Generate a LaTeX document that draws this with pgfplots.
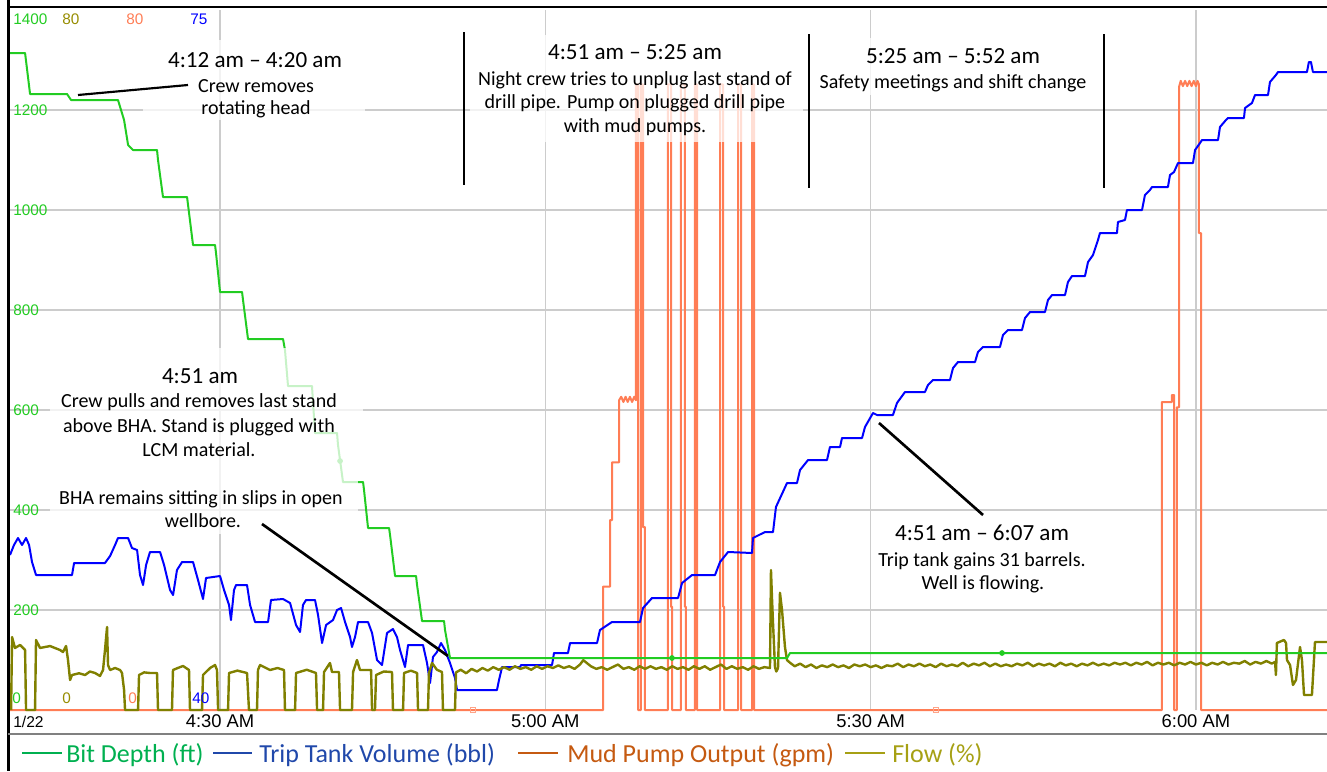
\documentclass[border=0pt]{standalone}
\usepackage{fontspec}
\setmainfont{Carlito}
\newfontfamily\tickfont{Liberation Sans}
\usepackage{pgfplots}
\pgfplotsset{compat=1.18}

\definecolor{bitgreen}{RGB}{34,204,34}
\definecolor{tripblue}{RGB}{0,0,255}
\definecolor{mudcoral}{RGB}{255,125,85}
\definecolor{flowolive}{RGB}{128,128,0}
\definecolor{gridgray}{RGB}{204,204,204}
\definecolor{leggreen}{RGB}{0,176,80}
\definecolor{legblue}{RGB}{32,72,170}
\definecolor{legorange}{RGB}{197,90,17}
\definecolor{legolive}{RGB}{166,160,20}
\definecolor{tickolive}{RGB}{150,140,0}

\newcommand\hdr{\fontsize{17.3}{20}\selectfont}
\newcommand\sub{\fontsize{15}{18}\selectfont}
\newcommand\legfont{\fontsize{19.5}{22}\selectfont}
\newcommand\smalltick{\tickfont\fontsize{11.5}{13}\selectfont}

% time axis: minutes after 4:00 am
\pgfplotsset{
  wellaxis/.style={at={(7.5pt,-532.5pt)}, anchor=south west, width=987.75pt, height=525pt,
    scale only axis, xmin=10.63, xmax=132.09},
  layeraxis/.style={wellaxis, hide axis, clip=false},
}

\begin{document}
\begin{tikzpicture}[x=0.75pt,y=-0.75pt]
\useasboundingbox (0,0) rectangle (1327,771);

% grid and time ticks
\begin{axis}[wellaxis, ymin=0, ymax=1400,
  axis line style={draw=none}, major tick length=0pt,
  xtick={30,60,90,120}, xticklabels={4:30 AM,5:00 AM,5:30 AM,6:00 AM},
  ytick={200,400,600,800,1000,1200},
  /pgf/number format/1000 sep={},
  /pgf/number format/assume math mode=true,
  xmajorgrids, ymajorgrids, grid style={draw=gridgray, line width=1.1pt},
  xticklabel style={font=\tickfont\fontsize{13.8}{16}\selectfont, anchor=base, yshift=-12.75pt},
  yticklabel style={font=\smalltick, text=bitgreen, anchor=west, inner sep=0pt, xshift=2.25pt}]
\addplot[draw=none] coordinates {(30,0)};
\end{axis}

% mud pump output (gpm)
\begin{axis}[layeraxis, ymin=0, ymax=80]
\addplot[mudcoral, line width=1.5pt, line join=round] coordinates {
(10.63,0)(65.32,0)(65.32,14.1)(65.97,14.1)(65.97,21.7)(66.15,21.7)(66.15,28.3)(66.80,28.3)
(66.80,35.4)(67.0,35.8)(67.2,35.2)(67.4,35.8)(67.6,35.2)(67.8,35.8)(68.0,35.2)(68.2,35.8)(68.36,35.4)
(68.36,71.5)(68.55,71.5)(68.55,0)
(68.82,0)(68.82,71.5)(69.01,71.5)(69.01,20.9)(69.19,20.9)(69.19,0)
(71.31,0)(71.31,71.5)(71.59,71.5)(71.59,11.8)(71.70,11.8)(71.70,0)
(72.51,0)(72.51,71.5)(72.88,71.5)(72.88,11.8)(72.97,11.8)(72.97,0)
(73.80,0)(73.80,71.5)(73.99,71.5)(73.99,0)
(76.11,0)(76.11,71.5)(76.39,71.5)(76.39,11.8)(76.50,11.8)(76.50,0)
(77.77,0)(77.77,71.5)(78.05,71.5)(78.05,0)
(79.06,0)(79.06,71.5)(79.25,71.5)(79.25,0)
(116.87,0)(116.87,35.2)(117.79,35.2)(117.79,36.0)(117.98,36.0)(117.98,0)
(118.25,0)(118.25,34.6)(118.44,34.6)(118.44,71.2)(118.6,71.9)(118.8,71.3)(119.0,71.9)(119.2,71.3)
(119.4,71.9)(119.6,71.3)(119.8,71.9)(120.0,71.3)(120.15,71.9)(120.28,71.5)(120.28,54.5)(120.47,54.5)
(120.47,0)(132.09,0)};
\addplot[only marks, mark=square, mark size=1.9pt, mudcoral!70, mark options={line width=0.6pt}]
  coordinates {(53.33,0)(96.03,0)};
\end{axis}

% trip tank volume (bbl)
\begin{axis}[layeraxis, ymin=40, ymax=75]
\addplot[tripblue, line width=1.5pt, line join=round] coordinates {
(10.63,47.75)(11.0,48.25)(11.37,48.6)(11.74,48.25)(12.11,48.6)(12.39,48.25)(12.66,47.4)(13.03,46.75)
(16.35,46.75)(16.54,47.35)(19.39,47.35)(19.86,47.7)(20.32,48.25)(20.59,48.6)(21.52,48.6)(21.88,48.1)
(22.35,48.0)(22.62,46.75)(22.90,46.25)(23.18,47.25)(23.54,47.9)(24.47,47.9)(24.84,47.25)(25.39,46.0)
(25.67,45.75)(26.03,47.0)(26.50,47.4)(27.51,47.4)(27.97,46.5)(28.43,45.55)(28.71,46.6)(30.00,46.7)
(30.37,46.0)(30.83,45.25)(31.01,44.5)(31.29,46.0)(31.48,46.25)(32.49,46.25)(32.77,45.25)(33.23,44.4)
(34.43,44.4)(34.70,45.5)(35.81,45.55)(36.46,45.35)(37.01,44.25)(37.38,43.9)(37.65,45.25)(37.93,45.5)
(38.76,45.5)(39.04,44.75)(39.41,43.35)(39.78,44.25)(40.42,44.5)(40.79,45.0)(41.16,45.1)(41.53,44.4)
(41.99,43.65)(42.17,43.15)(42.45,43.65)(42.73,44.4)(43.65,44.4)(44.02,43.85)(44.48,42.5)(44.94,42.25)
(45.40,43.85)(45.95,44.05)(46.32,43.65)(46.60,43.0)(47.06,42.15)(47.34,43.25)(48.72,43.25)(49.09,42.35)
(49.37,41.35)(49.64,42.65)(50.01,42.9)(50.38,43.35)(50.75,43.0)(51.21,42.35)(51.67,41.6)(51.86,41.0)
(55.54,41.0)(55.73,41.5)(56.01,42.15)(57.67,42.15)(57.76,42.25)(60.62,42.25)(60.80,42.85)(62.09,42.85)
(62.28,43.35)(64.77,43.35)(65.04,44.0)(66.15,44.4)(68.73,44.4)(69.01,45.1)(69.84,45.6)(72.24,45.6)
(72.61,46.35)(73.53,46.75)(75.65,46.75)(76.11,47.4)(76.85,47.9)(79.06,47.85)(79.15,48.6)(80.26,48.9)
(81.00,48.9)(81.27,50.15)(82.29,51.35)(83.21,51.35)(83.49,52.0)(84.23,52.5)(85.98,52.5)(86.25,53.15)
(87.18,53.15)(87.36,53.6)(89.21,53.6)(89.48,54.15)(90.22,54.85)(90.59,54.75)(92.06,54.75)(92.43,55.35)
(93.17,55.9)(95.01,55.9)(95.29,56.25)(95.75,56.5)(97.32,56.5)(97.60,57.1)(98.06,57.4)(99.63,57.4)
(99.90,57.9)(100.36,58.15)(101.93,58.15)(102.21,58.75)(102.67,59.0)(103.96,59.0)(104.24,59.6)(104.70,59.9)
(106.08,59.9)(106.36,60.5)(106.73,60.75)(107.93,60.75)(108.20,61.4)(108.57,61.7)(109.77,61.7)(110.05,62.4)
(110.51,62.75)(110.97,63.5)(111.15,63.85)(112.72,63.85)(112.81,64.4)(113.46,64.5)(113.64,65.0)(115.03,65.0)
(115.30,65.75)(115.76,66.0)(115.95,66.15)(117.42,66.15)(117.61,66.75)(117.98,66.9)(118.35,67.35)(119.73,67.35)
(119.92,68.0)(120.38,68.35)(120.56,68.5)(122.04,68.5)(122.22,69.15)(122.77,69.5)(122.96,69.6)(124.43,69.6)
(124.53,70.1)(125.17,70.35)(125.45,70.75)(126.65,70.75)(126.83,71.4)(127.38,71.75)(127.57,71.9)(130.24,71.9)
(130.42,72.4)(130.61,72.4)(130.79,71.9)(132.09,71.9)};
\end{axis}

% flow (%)
\begin{axis}[layeraxis, ymin=0, ymax=80]
\addplot[flowolive, line width=1.8pt, line join=round] coordinates {
(10.73,0)(10.82,8.34)(11.09,7.09)(11.56,7.43)(12.02,6.86)(12.11,0)(12.94,0)(13.03,8.0)(13.4,7.09)
(14.32,7.31)(15.24,6.86)(15.52,6.63)(15.80,7.31)(15.98,5.71)(16.17,3.43)(16.35,4.0)(17.0,4.2)(17.55,4.0)
(18.0,4.4)(18.47,4.23)(18.93,3.89)(19.21,4.57)(19.39,6.86)(19.58,9.49)(19.67,5.14)(19.86,4.57)(20.32,4.8)
(20.78,4.57)(20.96,4.23)(21.15,2.29)(21.24,0)
(22.44,0)(22.53,4.0)(23.0,4.3)(23.54,4.23)(24.19,4.23)(24.28,0)
(25.57,0)(25.66,4.57)(26.1,4.8)(26.59,5.03)(27.14,4.57)(27.23,0)
(28.34,0)(28.43,4.0)(29.08,4.8)(29.54,5.14)(29.72,4.57)(29.82,0)
(30.74,0)(30.83,4.23)(31.6,4.5)(32.49,4.23)(32.67,0)
(33.41,0)(33.50,4.57)(33.69,5.14)(34.61,4.57)(35.3,4.8)(35.90,4.57)(35.99,0)
(36.92,0)(37.01,4.23)(38.0,4.6)(38.85,4.23)(38.95,0)
(39.50,0)(39.59,4.34)(40.14,5.37)(40.33,4.34)(40.97,4.34)(41.07,0)
(42.17,0)(42.27,4.34)(42.63,5.71)(42.91,4.57)(43.93,4.57)(44.02,0)
(44.29,0)(44.39,4.0)(45.1,4.4)(45.86,4.34)(45.95,0)
(46.88,0)(46.97,4.23)(47.6,4.5)(48.17,4.23)(48.26,0)
(49.18,0)(49.27,4.23)(49.55,5.37)(50.0,4.6)(50.47,4.34)(50.56,0)
(51.67,0)(51.76,4.3)(52.2,4.6)(52.7,4.2)(53.2,4.7)(53.7,4.4)(54.2,4.8)(54.7,4.5)(55.2,4.9)(55.7,4.6)
(56.2,4.9)(56.7,4.6)(57.2,5.0)(57.7,4.7)(58.2,4.9)(58.7,4.6)(59.2,5.0)(59.7,4.7)(60.2,5.0)(60.7,4.8)
(61.2,5.1)(61.7,4.8)(62.2,5.0)(62.7,4.7)(63.2,5.2)(63.5,5.7)(63.8,5.4)(64.2,5.0)(64.7,4.7)(65.2,4.9)
(65.7,4.6)(66.2,4.9)(66.7,5.2)(67.2,4.7)(67.7,4.9)(68.2,4.6)(68.7,5.0)(69.2,4.7)(69.7,5.0)(70.2,4.7)
(70.7,4.9)(71.2,4.6)(71.7,5.0)(72.2,4.7)(72.7,4.9)(73.2,4.6)(73.7,5.0)(74.2,4.7)(74.7,5.0)(75.2,4.6)
(75.7,4.9)(76.2,5.2)(76.7,4.7)(77.2,5.0)(77.7,4.7)(78.2,4.9)(78.7,4.6)(79.2,5.0)(79.7,4.7)(80.2,4.9)
(80.72,4.8)(80.81,16.0)(80.91,12.6)(81.0,9.9)(81.18,4.9)(81.3,4.4)(81.46,4.8)(81.64,13.4)(81.83,11.4)
(82.1,7.2)(82.29,5.7)(82.57,5.4)
(83.0,5.0)(83.5,5.3)(84.0,4.9)(84.5,5.2)(85.0,4.8)(85.5,5.1)(86.0,4.9)(86.5,5.2)(87.0,4.9)(87.5,5.1)
(88.0,4.8)(88.5,5.2)(89.0,5.0)(89.5,5.2)(90.0,4.9)(90.5,5.1)(91.0,4.8)(91.5,5.1)(92.0,5.0)(92.5,5.3)
(93.0,4.9)(93.5,5.2)(94.0,5.0)(94.5,5.3)(95.0,5.0)(95.5,5.2)(96.0,4.9)(96.5,5.3)(97.0,5.0)(97.5,5.2)
(98.0,5.0)(98.5,5.4)(99.0,5.0)(99.5,5.3)(100.0,5.1)(100.5,5.4)(101.0,5.0)(101.5,5.3)(102.0,5.0)(102.5,5.2)
(103.0,5.0)(103.5,5.3)(104.0,5.1)(104.5,5.4)(105.0,5.0)(105.5,5.3)(106.0,5.1)(106.5,5.3)(107.0,5.0)(107.5,5.4)
(108.0,5.1)(108.5,5.3)(109.0,5.0)(109.5,5.3)(110.0,5.1)(110.5,5.4)(111.0,5.1)(111.5,5.3)(112.0,5.1)(112.5,5.4)
(113.0,5.2)(113.5,5.4)(114.0,5.1)(114.5,5.4)(115.0,5.2)(115.5,5.5)(116.0,5.1)(116.5,5.4)(117.0,5.2)(117.5,5.4)
(118.0,5.1)(118.5,5.4)(119.0,5.2)(119.5,5.5)(120.0,5.2)(120.5,5.4)(121.0,5.1)(121.5,5.4)(122.0,5.2)(122.5,5.5)
(123.0,5.2)(123.5,5.4)(124.0,5.3)(124.5,5.6)(125.0,5.2)(125.5,5.5)(126.0,5.3)(126.5,5.6)(127.0,5.3)(127.3,5.5)
(127.38,4.0)(127.47,7.66)(128.12,8.0)(128.31,7.66)(128.40,5.71)(128.68,5.14)(128.95,2.86)(129.23,3.43)
(129.60,7.2)(129.78,5.71)(129.97,1.71)(130.70,1.71)(130.98,7.77)(132.09,7.77)};
\end{axis}

% bit depth (ft)
\begin{axis}[layeraxis, ymin=0, ymax=1400]
\addplot[bitgreen, line width=1.5pt, line join=round] coordinates {
(10.63,1314)(12.02,1314)(12.48,1232)(15.89,1232)(16.26,1220)(20.59,1220)(21.15,1180)(21.52,1130)
(21.98,1120)(24.19,1120)(24.28,1100)(24.74,1026)(26.96,1026)(27.05,1010)(27.51,930)(29.54,930)
(29.63,914)(30.00,836)(32.03,836)(32.12,820)(32.58,742)(35.81,742)(35.99,720)(36.27,648)
(38.48,648)(38.76,554)(40.79,554)(40.88,530)(41.34,456)(43.19,456)(43.28,440)(43.65,364)
(45.59,364)(45.68,350)(46.14,268)(48.08,268)(48.17,250)(48.63,178)(50.66,178)(50.75,160)
(51.21,104)(82.29,104)(82.57,114)(132.09,114)};
\addplot[only marks, mark=*, mark size=1.9pt, bitgreen] coordinates {(41.07,498)(71.68,104)(102.12,114)};
\end{axis}

% scale labels
\node[anchor=west, inner sep=0, font=\smalltick, text=bitgreen] at (13,19) {1400};
\node[anchor=west, inner sep=0, font=\smalltick, text=tickolive] at (62,19) {80};
\node[anchor=west, inner sep=0, font=\smalltick, text=mudcoral] at (126,19) {80};
\node[anchor=west, inner sep=0, font=\smalltick, text=tripblue] at (190,19) {75};
\node[anchor=west, inner sep=0, font=\smalltick, text=bitgreen] at (12,698) {0};
\node[anchor=west, inner sep=0, font=\smalltick, text=tickolive] at (62,698) {0};
\node[anchor=west, inner sep=0, font=\smalltick, text=mudcoral] at (128,698) {0};
\node[anchor=west, inner sep=0, font=\smalltick, text=tripblue] at (192,698) {40};
\node[anchor=base west, inner sep=0, font=\tickfont\fontsize{11.7}{13}\selectfont] at (13,727) {1/22};

% annotation backgrounds
\fill[white, opacity=0.75] (143,40) rectangle (365,120);
\fill[white, opacity=0.75] (50,348) rectangle (363,462);
\fill[white, opacity=0.75] (50,462) rectangle (358,534);
\fill[white, opacity=0.75] (470,35) rectangle (803,142);
\fill[white, opacity=0.75] (815,38) rectangle (1098,95);
\fill[white, opacity=0.75] (872,515) rectangle (1093,600);

% annotations
\node[anchor=base, inner sep=0, font=\hdr] at (255,67) {4:12 am – 4:20 am};
\node[anchor=base, inner sep=0, font=\sub] at (256,92) {Crew removes};
\node[anchor=base, inner sep=0, font=\sub] at (256,114) {rotating head};
\draw[black, line width=1.6pt] (78,95) -- (188,85);

\node[anchor=base, inner sep=0, font=\hdr] at (635,59) {4:51 am – 5:25 am};
\node[anchor=base, inner sep=0, font=\sub] at (635,85) {Night crew tries to unplug last stand of};
\node[anchor=base, inner sep=0, font=\sub] at (635,108.5) {drill pipe. Pump on plugged drill pipe};
\node[anchor=base, inner sep=0, font=\sub] at (635,132) {with mud pumps.};

\node[anchor=base, inner sep=0, font=\hdr] at (953,63) {5:25 am – 5:52 am};
\node[anchor=base, inner sep=0, font=\sub] at (953,88) {Safety meetings and shift change};

\draw[black, line width=2.2pt] (464,32) -- (464,185);
\draw[black, line width=2.2pt] (809,34) -- (809,188);
\draw[black, line width=2.2pt] (1104,34) -- (1104,188);

\node[anchor=base, inner sep=0, font=\hdr] at (200,383) {4:51 am};
\node[anchor=base, inner sep=0, font=\sub] at (199,407) {Crew pulls and removes last stand};
\node[anchor=base, inner sep=0, font=\sub] at (199,432) {above BHA. Stand is plugged with};
\node[anchor=base, inner sep=0, font=\sub] at (199,456) {LCM material.};
\node[anchor=base, inner sep=0, font=\sub] at (201,504) {BHA remains sitting in slips in open};
\node[anchor=base, inner sep=0, font=\sub] at (203,527) {wellbore.};
\draw[black, line width=2pt] (262,524) -- (448,656);

\node[anchor=base, inner sep=0, font=\hdr] at (982,540) {4:51 am – 6:07 am};
\node[anchor=base, inner sep=0, font=\sub] at (982,566) {Trip tank gains 31 barrels.};
\node[anchor=base, inner sep=0, font=\sub] at (983,589) {Well is flowing.};
\draw[black, line width=2pt] (879,423) -- (983,515);

% frame
\draw[black, line width=2.2pt] (8.5,0) -- (8.5,771);
\draw[black, line width=1.8pt] (8,7) -- (1327,7);
\draw[gray, line width=1.2pt] (8,734) -- (1327,734);

% legend
\draw[leggreen, line width=1.5pt] (22,753) -- (62,753);
\node[anchor=base west, inner sep=0, font=\legfont, text=leggreen] at (66,762) {Bit Depth (ft)};
\draw[legblue, line width=1.5pt] (213,753) -- (252,753);
\node[anchor=base west, inner sep=0, font=\legfont, text=legblue] at (259,762) {Trip Tank Volume (bbl)};
\draw[legorange, line width=1.5pt] (518,753) -- (558,753);
\node[anchor=base west, inner sep=0, font=\legfont, text=legorange] at (567,762) {Mud Pump Output (gpm)};
\draw[legolive, line width=1.5pt] (845,753) -- (885,753);
\node[anchor=base west, inner sep=0, font=\legfont, text=legolive] at (892,762) {Flow (\%)};
\end{tikzpicture}
\end{document}
